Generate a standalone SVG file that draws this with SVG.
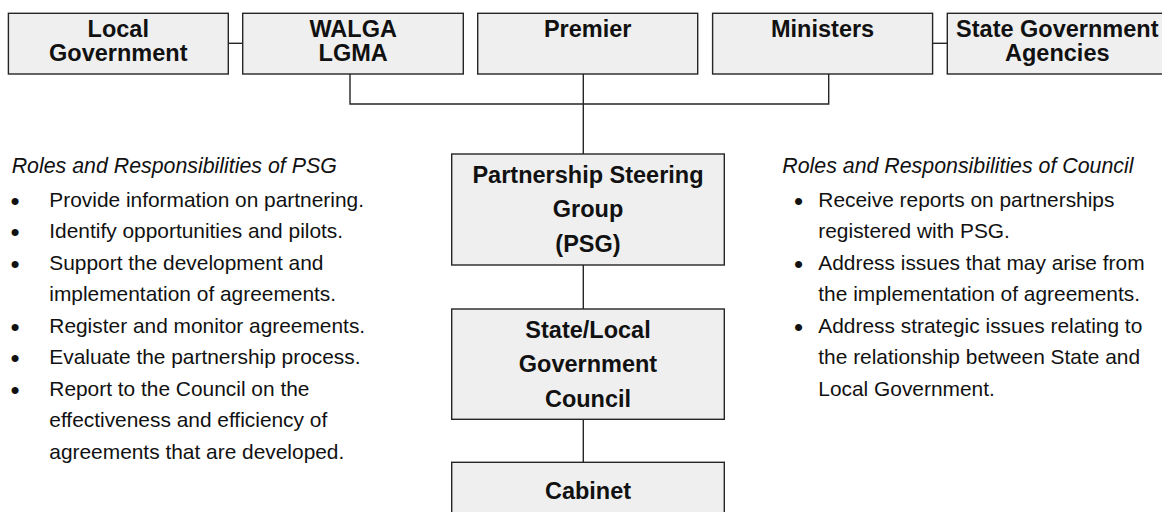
<svg xmlns="http://www.w3.org/2000/svg" width="1162" height="512" viewBox="0 0 1162 512">
<style>
.box{fill:#efefef;stroke:#262626;stroke-width:1.4}
.lbl{font-family:"Liberation Sans",Arial,sans-serif;font-weight:bold;font-size:23.5px;fill:#111;text-anchor:middle}
.txt{font-family:"Liberation Sans",Arial,sans-serif;font-size:20.9px;fill:#111}
.ttl{font-family:"Liberation Sans",Arial,sans-serif;font-size:21.35px;font-style:italic;fill:#111}
.bul{font-family:"Liberation Sans",Arial,sans-serif;font-size:26px;fill:#111}
.con{fill:none;stroke:#262626;stroke-width:1.4}
</style>
<rect width="1162" height="512" fill="#ffffff"/>
<g id="connectors">
<path class="con" d="M228.3 43.3H242.7"/>
<path class="con" d="M932.6 43.3H947.3"/>
<path class="con" d="M350 74V104H828.7V74"/>
<path class="con" d="M583.3 74V154"/>
<path class="con" d="M583.3 265V309"/>
<path class="con" d="M583.3 419.3V462.3"/>
</g>
<g id="local-government">
<rect class="box" x="8.4" y="13.3" width="219.9" height="60.7"/>
<text class="lbl" x="118.3" y="36.7">Local</text>
<text class="lbl" x="118.3" y="61">Government</text>
</g>
<g id="walga-lgma">
<rect class="box" x="242.7" y="13.3" width="220.6" height="60.7"/>
<text class="lbl" x="353.2" y="36.7">WALGA</text>
<text class="lbl" x="353.2" y="61">LGMA</text>
</g>
<g id="premier">
<rect class="box" x="477.7" y="13.3" width="220" height="60.7"/>
<text class="lbl" x="587.7" y="36.7">Premier</text>
</g>
<g id="ministers">
<rect class="box" x="712.6" y="13.3" width="220" height="60.7"/>
<text class="lbl" x="822.6" y="36.7">Ministers</text>
</g>
<g id="state-government-agencies">
<rect class="box" x="947.3" y="13.3" width="220" height="60.7"/>
<text class="lbl" x="1057.3" y="36.7">State Government</text>
<text class="lbl" x="1057.3" y="61">Agencies</text>
</g>
<g id="psg">
<rect class="box" x="451.7" y="154" width="272.6" height="111"/>
<text class="lbl" x="588" y="182.5">Partnership Steering</text>
<text class="lbl" x="588" y="217">Group</text>
<text class="lbl" x="588" y="251.5">(PSG)</text>
</g>
<g id="council">
<rect class="box" x="451.7" y="309" width="272.6" height="110.3"/>
<text class="lbl" x="588" y="337.5">State/Local</text>
<text class="lbl" x="588" y="372.3">Government</text>
<text class="lbl" x="588" y="407">Council</text>
</g>
<g id="cabinet">
<rect class="box" x="451.7" y="462.3" width="272.6" height="111"/>
<text class="lbl" x="588" y="498.5">Cabinet</text>
</g>
<g id="psg-roles">
<text class="ttl" x="11.7" y="173.3">Roles and Responsibilities of PSG</text>
<text class="bul" x="10.5" y="209.5">•</text>
<text class="txt" x="49.3" y="206.7">Provide information on partnering.</text>
<text class="bul" x="10.5" y="241">•</text>
<text class="txt" x="49.3" y="238.2">Identify opportunities and pilots.</text>
<text class="bul" x="10.5" y="272.5">•</text>
<text class="txt" x="49.3" y="269.7">Support the development and</text>
<text class="txt" x="49.3" y="301.2">implementation of agreements.</text>
<text class="bul" x="10.5" y="335.5">•</text>
<text class="txt" x="49.3" y="332.7">Register and monitor agreements.</text>
<text class="bul" x="10.5" y="367">•</text>
<text class="txt" x="49.3" y="364.2">Evaluate the partnership process.</text>
<text class="bul" x="10.5" y="398.5">•</text>
<text class="txt" x="49.3" y="395.7">Report to the Council on the</text>
<text class="txt" x="49.3" y="427.2">effectiveness and efficiency of</text>
<text class="txt" x="49.3" y="458.7">agreements that are developed.</text>
</g>
<g id="council-roles">
<text class="ttl" x="782.3" y="173.3">Roles and Responsibilities of Council</text>
<text class="bul" x="794" y="209.5">•</text>
<text class="txt" x="818.3" y="206.7">Receive reports on partnerships</text>
<text class="txt" x="818.3" y="238.2">registered with PSG.</text>
<text class="bul" x="794" y="272.5">•</text>
<text class="txt" x="818.3" y="269.7">Address issues that may arise from</text>
<text class="txt" x="818.3" y="301.2">the implementation of agreements.</text>
<text class="bul" x="794" y="335.5">•</text>
<text class="txt" x="818.3" y="332.7">Address strategic issues relating to</text>
<text class="txt" x="818.3" y="364.2">the relationship between State and</text>
<text class="txt" x="818.3" y="395.7">Local Government.</text>
</g>
</svg>
